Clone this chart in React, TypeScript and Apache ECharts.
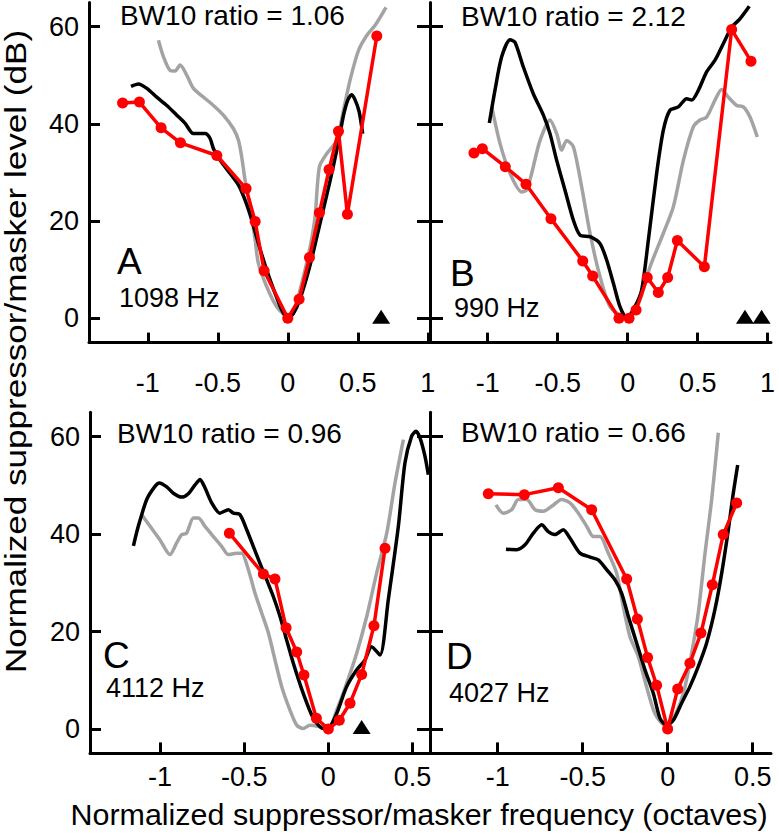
import React, { useEffect, useRef } from 'react';
import * as echarts from 'echarts';

const FONT = '"Liberation Sans", Arial, Helvetica, sans-serif';

// ---- Data (x: octaves, y: dB) ----
const aRed = [[-1.18,44.3],[-1.06,44.5],[-0.905,39.2],[-0.767,36.1],[-0.507,33.5],[-0.298,26.7],[-0.233,19.9],[-0.169,9.8],[0,0],[0.081,3.9],[0.155,12.5],[0.226,21.7],[0.295,30.6],[0.362,38.5],[0.426,21.4],[0.636,58.1]];
const aBlack = [[-1.12,47.7],[-1.067,48.2],[-1.007,47.3],[-0.936,45.5],[-0.864,43.8],[-0.793,41.8],[-0.733,40.1],[-0.674,38],[-0.59,38],[-0.555,37],[-0.531,34.9],[-0.483,32.5],[-0.412,29.8],[-0.352,27.4],[-0.305,24.3],[-0.257,20.2],[-0.21,15.4],[-0.15,9.9],[-0.09,5.1],[-0.043,1.7],[0,0],[0.04,1],[0.088,4],[0.16,11],[0.23,19.5],[0.3,28],[0.36,36],[0.4,42],[0.43,45],[0.455,46],[0.48,45],[0.51,42.5],[0.535,38]];
const aGray = [[-0.924,57.2],[-0.888,53.8],[-0.84,51],[-0.805,50.9],[-0.769,52.1],[-0.721,50],[-0.674,47.3],[-0.602,45.5],[-0.531,43.8],[-0.46,41.8],[-0.388,39],[-0.352,36.6],[-0.329,33.2],[-0.305,28.4],[-0.269,22.9],[-0.233,16.1],[-0.21,11.3],[-0.15,6.5],[-0.079,2.4],[0,0.3],[0.052,2.4],[0.1,7.2],[0.16,14.7],[0.195,20.9],[0.226,31.2],[0.279,33.9],[0.35,36.6],[0.398,42.8],[0.445,49],[0.505,55.1],[0.564,58.2],[0.624,60.3],[0.702,64]];
const aTri = [[0.667,0.3]];

const bRed = [[-1.098,34],[-1.038,34.9],[-0.874,31.2],[-0.726,27.6],[-0.548,20.5],[-0.321,11.8],[-0.25,8.7],[-0.062,0],[0.01,0],[0.06,1.7],[0.14,8.4],[0.219,5.3],[0.286,8.4],[0.355,16],[0.548,10.6],[0.743,59.4],[0.881,52.9]];
const bBlack = [[-0.988,40.2],[-0.948,46.9],[-0.9,53.8],[-0.84,57.3],[-0.805,56.8],[-0.745,51.7],[-0.674,46.2],[-0.602,41.8],[-0.555,38],[-0.507,32.5],[-0.448,26.4],[-0.388,20.2],[-0.34,17.1],[-0.269,16.8],[-0.198,15.4],[-0.15,12],[-0.102,7.2],[-0.055,2.4],[-0.007,0],[0.052,2.4],[0.1,5.8],[0.148,16.1],[0.207,29.8],[0.255,38.7],[0.302,42.8],[0.362,43.5],[0.421,45.2],[0.457,44.9],[0.505,46.9],[0.564,50.7],[0.624,53.1],[0.683,56.5],[0.743,59.9],[0.802,61.6],[0.869,64.2]];
const bGray = [[-0.971,43.5],[-0.912,36],[-0.84,29.8],[-0.757,26],[-0.721,26.4],[-0.686,29.8],[-0.626,36.6],[-0.555,40.8],[-0.507,38],[-0.471,34.6],[-0.436,36.6],[-0.388,35.3],[-0.329,27.1],[-0.269,17.5],[-0.198,8.6],[-0.126,2.4],[-0.055,0.7],[0.017,0.3],[0.088,3.8],[0.16,10.6],[0.255,17.5],[0.326,22.9],[0.398,32.5],[0.469,39.4],[0.517,40.8],[0.564,41.4],[0.624,44.9],[0.671,47.1],[0.719,45.5],[0.779,43.8],[0.826,43.5],[0.874,41.4],[0.926,37.3]];
const bTri = [[0.838,0.3],[0.957,0.3]];

const cRed = [[-0.588,40.2],[-0.386,31.8],[-0.317,30.8],[-0.251,20.8],[-0.188,15.8],[-0.145,11.1],[-0.071,2.2],[0,0],[0.065,1.8],[0.129,5.3],[0.198,11.2],[0.271,21.2],[0.337,37.1]];
const cBlack = [[-1.158,37.6],[-1.129,41.6],[-1.079,47.1],[-1.03,49.8],[-1.004,50.5],[-0.96,49.7],[-0.921,48.4],[-0.871,47.6],[-0.832,48.3],[-0.792,50.1],[-0.762,51.2],[-0.733,49.5],[-0.693,46.4],[-0.644,44.3],[-0.594,45],[-0.564,44.3],[-0.525,44],[-0.485,40.9],[-0.446,37.5],[-0.406,34],[-0.366,30.6],[-0.327,27.2],[-0.287,23.1],[-0.248,18.3],[-0.208,13.5],[-0.149,7.3],[-0.089,2.2],[-0.03,0.1],[0.01,0.5],[0.05,3.2],[0.109,8.7],[0.168,12.1],[0.218,14.2],[0.257,16.9],[0.307,15.2],[0.356,26.5],[0.416,41.6],[0.455,54.6],[0.495,60.1],[0.521,61.1],[0.545,59.7],[0.574,56],[0.594,52.2]];
const cGray = [[-1.109,44],[-1.059,41.6],[-1,38.8],[-0.941,35.8],[-0.901,38.2],[-0.871,39.9],[-0.842,40.2],[-0.802,43.3],[-0.772,43.3],[-0.733,41.6],[-0.683,39.5],[-0.634,37.5],[-0.594,35.8],[-0.545,36.1],[-0.515,36.1],[-0.475,32.7],[-0.436,27.9],[-0.396,23.8],[-0.356,19.7],[-0.317,14.2],[-0.277,8.7],[-0.228,3.9],[-0.188,0.8],[-0.149,0.1],[-0.109,0.8],[-0.05,0.5],[0,0.1],[0.05,3.9],[0.109,9.4],[0.168,15.5],[0.228,23.1],[0.287,32],[0.347,40.2],[0.396,50.5],[0.446,59.4]];
const cTri = [[0.198,0.4]];

const dRed = [[-1.055,48.3],[-0.843,48.1],[-0.643,49.5],[-0.447,45],[-0.241,30.8],[-0.178,22.6],[-0.118,14.7],[-0.065,9],[0,0],[0.059,8.2],[0.131,13.5],[0.196,19.7],[0.263,29.6],[0.327,39.9],[0.406,46.4]];
const dBlack = [[-0.951,36.9],[-0.888,36.8],[-0.839,37.8],[-0.79,40.2],[-0.741,41.9],[-0.702,40.5],[-0.663,39.9],[-0.614,40.9],[-0.575,39.2],[-0.516,36.1],[-0.457,35.3],[-0.408,34.7],[-0.359,32.7],[-0.31,30.6],[-0.271,27.9],[-0.231,23.1],[-0.182,17.6],[-0.133,12.1],[-0.084,7.3],[-0.045,2.2],[-0.006,0.8],[0.033,1.8],[0.082,5.3],[0.131,8.7],[0.18,12.8],[0.229,17.6],[0.278,24.5],[0.318,32],[0.357,40.9],[0.386,48.4],[0.412,54.2]];
const dGray = [[-1.01,46],[-0.967,44.3],[-0.918,45],[-0.878,47.1],[-0.829,47.1],[-0.78,45],[-0.731,44.7],[-0.682,45.7],[-0.624,47.1],[-0.575,46.4],[-0.525,44.3],[-0.476,41.6],[-0.437,39.5],[-0.398,39.5],[-0.349,36.1],[-0.3,32],[-0.261,25.1],[-0.222,19],[-0.173,14.9],[-0.124,8.7],[-0.075,3.2],[-0.016,0.8],[0.033,2.2],[0.092,7.3],[0.141,15.5],[0.18,23.8],[0.22,36.1],[0.259,47.1],[0.298,60.8]];

const xTicksTop = [-1, -0.5, 0, 0.5, 1];
const xTicksBottom = [-1, -0.5, 0, 0.5];
const yTicks = [0, 20, 40, 60];

const ratioLabels = ['BW10 ratio = 1.06', 'BW10 ratio = 2.12', 'BW10 ratio = 0.96', 'BW10 ratio = 0.66'];
const panelLetters = ['A', 'B', 'C', 'D'];
const freqLabels = ['1098 Hz', '990 Hz', '4112 Hz', '4027 Hz'];
const xTitle = 'Normalized suppressor/masker frequency (octaves)';
const yTitle = 'Normalized suppressor/masker level (dB)';

const panels = [
  { red: aRed, black: aBlack, gray: aGray, tri: aTri },
  { red: bRed, black: bBlack, gray: bGray, tri: bTri },
  { red: cRed, black: cBlack, gray: cGray, tri: cTri },
  { red: dRed, black: dBlack, gray: dGray, tri: null as any },
];

// ---- Layout ----
const grids = [
  { left: 89, top: 2.4, width: 341, height: 340.2 },
  { left: 430, top: 2.4, width: 341, height: 340.2 },
  { left: 90, top: 412.3, width: 340, height: 341.1 },
  { left: 430, top: 412.3, width: 341, height: 341.1 },
];
const xRanges = [[-1.42, 1.016], [-1.412, 1.024], [-1.416, 0.604], [-1.398, 0.608]];
const xLabelMargin = [26.5, 26.5, 10.5, 10.5];
const xTickLen = [10, 10, 11, 11];

const RED = '#ff0000';
const GRAY = '#a3a3a3';
const LW = 3.5;
const TICK_FS = 27;

function buildOption() {
  const axisLine = { show: true, onZero: false, lineStyle: { color: '#000', width: 3 } };
  const xAxis = grids.map((_, i) => ({
    type: 'value', gridIndex: i, position: 'bottom',
    min: xRanges[i][0], max: xRanges[i][1],
    axisLine,
    axisTick: { show: true, inside: true, length: xTickLen[i], lineStyle: { color: '#000', width: 3 }, customValues: i < 2 ? xTicksTop : xTicksBottom },
    axisLabel: { show: true, customValues: i < 2 ? xTicksTop : xTicksBottom, margin: xLabelMargin[i], fontSize: TICK_FS, color: '#000', fontFamily: FONT, formatter: (v: number) => String(v) },
    splitLine: { show: false },
  }));
  const yAxis: any[] = grids.map((_, i) => {
    const labelled = i === 0 || i === 2;
    return {
      type: 'value', gridIndex: i, position: 'left', min: -5, max: 65,
      axisLine,
      axisTick: { show: true, inside: true, length: labelled ? 11 : 13, lineStyle: { color: '#000', width: 3 }, customValues: yTicks },
      axisLabel: { show: labelled, customValues: yTicks, margin: 10, fontSize: TICK_FS, color: '#000', fontFamily: FONT },
      splitLine: { show: false },
    };
  });
  // outer half of crossing ticks for panels B and D
  [1, 3].forEach((g) => {
    yAxis.push({
      type: 'value', gridIndex: g, position: 'left', min: -5, max: 65,
      axisLine: { show: false, onZero: false },
      axisTick: { show: true, inside: false, length: 13, lineStyle: { color: '#000', width: 3 }, customValues: yTicks },
      axisLabel: { show: false },
      splitLine: { show: false },
    });
  });

  const series: any[] = [];
  panels.forEach((p, i) => {
    series.push({ type: 'line', xAxisIndex: i, yAxisIndex: i, data: p.gray, showSymbol: false, smooth: 0.25, lineStyle: { color: GRAY, width: LW, join: 'round' }, z: 2 });
    series.push({ type: 'line', xAxisIndex: i, yAxisIndex: i, data: p.black, showSymbol: false, smooth: 0.25, lineStyle: { color: '#000', width: LW, join: 'round' }, z: 3 });
    series.push({ type: 'line', xAxisIndex: i, yAxisIndex: i, data: p.red, symbol: 'circle', symbolSize: 11, showSymbol: true, lineStyle: { color: RED, width: LW }, itemStyle: { color: RED, opacity: 1 }, z: 4 });
    if (p.tri) {
      series.push({ type: 'scatter', xAxisIndex: i, yAxisIndex: i, data: p.tri, symbol: 'triangle', symbolSize: [18, 14], itemStyle: { color: '#000', opacity: 1 }, z: 5 });
    }
  });

  const t = (text: string, x: number, y: number, fontSize: number, extra: any = {}) => ({
    type: 'text', x, y, ...extra,
    style: { text, fontSize, fontFamily: FONT, fill: '#000', align: extra.align || 'left', textAlign: extra.align || 'left', verticalAlign: 'middle', textVerticalAlign: 'middle' },
  });
  const ratioPos = [[120, 15], [461, 16], [117, 433.5], [461, 432]];
  const letterPos = [[117, 261.5], [450, 273], [103, 655], [446, 656.5]];
  const freqPos = [[119, 297.5], [454, 308], [106, 688], [449, 692.5]];
  const graphic: any[] = [];
  ratioLabels.forEach((s, i) => graphic.push(t(s, ratioPos[i][0], ratioPos[i][1], 28)));
  panelLetters.forEach((s, i) => graphic.push(t(s, letterPos[i][0], letterPos[i][1], 37)));
  freqLabels.forEach((s, i) => graphic.push(t(s, freqPos[i][0], freqPos[i][1], 27)));
  graphic.push(t(xTitle, 419, 815, 30, { align: 'center', scaleX: 1.015 }));
  graphic.push(t(yTitle, 15.5, 351.5, 30, { align: 'center', rotation: Math.PI / 2, scaleX: 1.17 }));

  return {
    animation: false,
    backgroundColor: '#fff',
    textStyle: { fontFamily: FONT },
    grid: grids.map((g) => ({ ...g, containLabel: false, outerBoundsMode: 'none' })),
    xAxis, yAxis, series, graphic,
  };
}

export default function App() {
  const ref = useRef<HTMLDivElement>(null);
  useEffect(() => {
    const chart = echarts.init(ref.current!, null, { renderer: 'svg', width: 779, height: 837 });
    chart.setOption(buildOption() as any);
    return () => chart.dispose();
  }, []);
  return <div ref={ref} style={{ position: 'fixed', left: 0, top: 0, width: 779, height: 837, background: '#fff' }} />;
}
